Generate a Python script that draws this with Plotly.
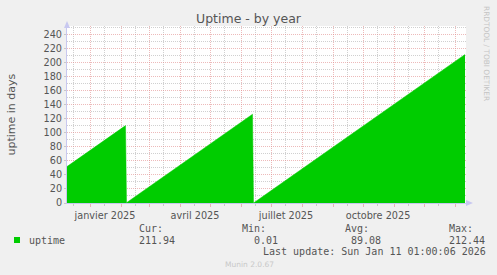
import plotly.graph_objects as go

# ---- data ----
dates = ["2024-12-09", "2025-02-05 12:00", "2025-02-06 12:00",
         "2025-06-12 12:00", "2025-06-13 12:00", "2026-01-11 01:00"]
uptime_days = [52.0, 110.4, 0.4, 126.6, 0.01, 211.94]

y_ticks = [0, 20, 40, 60, 80, 100, 120, 140, 160, 180, 200, 220, 240]
y_minor = [10, 30, 50, 70, 90, 110, 130, 150, 170, 190, 210, 230, 250]
month_starts = ["2025-01-01", "2025-02-01", "2025-03-01", "2025-04-01", "2025-05-01",
                "2025-06-01", "2025-07-01", "2025-08-01", "2025-09-01", "2025-10-01",
                "2025-11-01", "2025-12-01", "2026-01-01"]
mid_months = ["2024-12-15", "2025-01-15", "2025-02-15", "2025-03-15", "2025-04-15",
              "2025-05-15", "2025-06-15", "2025-07-15", "2025-08-15", "2025-09-15",
              "2025-10-15", "2025-11-15", "2025-12-15"]
label_dates = ["2025-01-16", "2025-04-16", "2025-07-16", "2025-10-16"]
label_texts = ["janvier 2025", "avril 2025", "juillet 2025", "octobre 2025"]

stat_names = ["Cur:", "Min:", "Avg:", "Max:"]
stat_values = ["211.94", "0.01", "89.08", "212.44"]
series_name = "uptime"
last_update = "Last update: Sun Jan 11 01:00:06 2026"

# ---- layout geometry (pixels) ----
W, H = 497, 275
L, R, T, B = 67, 31, 26, 72
PW, PH = W - L - R, H - T - B


def px(x):
    return (x - L) / PW


def py(y):
    return (H - B - y) / PH


GREEN = "#00CC00"
TXT = "#555555"
MAJ = "rgba(225,140,140,0.6)"
MIN = "rgba(150,150,150,0.45)"
AXIS = "#C8C8F0"
DASH = "1px,1px"

fig = go.Figure()
fig.add_trace(go.Scatter(
    x=dates, y=uptime_days, mode="lines", fill="tozeroy",
    line=dict(color=GREEN, width=0.5), fillcolor=GREEN,
    hoverinfo="skip", showlegend=False,
))
# invisible twin so the label axis (x2) is drawn
fig.add_trace(go.Scatter(
    x=dates, y=uptime_days, xaxis="x2", yaxis="y", mode="lines",
    line=dict(width=0, color="rgba(0,0,0,0)"), hoverinfo="skip", showlegend=False,
))

fig.update_layout(
    width=W, height=H,
    margin=dict(l=L, r=R, t=T, b=B, pad=0),
    paper_bgcolor="#F0F0F0", plot_bgcolor="#FFFFFF",
    showlegend=False,
    title=dict(text="Uptime - by year", x=0.5, xref="container", xanchor="center",
               y=1 - 19 / H, yref="container", yanchor="middle",
               font=dict(family="DejaVu Sans", size=12.5, color=TXT)),
    xaxis=dict(
        type="date", range=["2024-12-09", "2026-01-12"],
        tickmode="array", tickvals=month_starts, showticklabels=False,
        ticks="outside", ticklen=3, tickcolor=MAJ,
        showgrid=True, gridcolor=MAJ, griddash=DASH, gridwidth=1,
        minor=dict(tickmode="array", tickvals=mid_months, showgrid=True,
                   gridcolor=MIN, griddash=DASH, ticks="outside",
                   ticklen=2, tickcolor=MIN),
        showline=True, linecolor=AXIS, linewidth=1,
        zeroline=False, fixedrange=True,
    ),
    xaxis2=dict(
        type="date", overlaying="x", matches="x", anchor="y", side="bottom",
        tickmode="array", tickvals=label_dates, ticktext=label_texts,
        showgrid=False, ticks="outside", ticklen=3, tickcolor="rgba(0,0,0,0)",
        showline=False, zeroline=False,
        tickfont=dict(family="DejaVu Sans", size=9.7, color=TXT),
    ),
    yaxis=dict(
        range=[0, PH / 0.701], tickmode="array", tickvals=y_ticks,
        ticks="outside", ticklen=2, tickcolor=MIN,
        showgrid=True, gridcolor=MAJ, griddash=DASH, gridwidth=1,
        minor=dict(tickmode="array", tickvals=y_minor, showgrid=True,
                   gridcolor=MIN, griddash=DASH),
        showline=True, linecolor=AXIS, linewidth=1, zeroline=False,
        tickfont=dict(family="DejaVu Sans", size=9.7, color=TXT),
        fixedrange=True,
    ),
)

# axis arrows
fig.add_shape(type="path", xref="paper", yref="paper",
              path=f"M {px(64)} {py(28)} L {px(70)} {py(28)} L {px(67)} {py(21)} Z",
              fillcolor=AXIS, line=dict(width=0))
fig.add_shape(type="path", xref="paper", yref="paper",
              path=f"M {px(466)} {py(200)} L {px(466)} {py(206)} L {px(473)} {py(203)} Z",
              fillcolor=AXIS, line=dict(width=0))

# y axis title
fig.add_annotation(text="uptime in days", xref="paper", yref="paper",
                   x=px(11), y=0.5, textangle=-90, showarrow=False,
                   xanchor="center", yanchor="middle",
                   font=dict(family="DejaVu Sans", size=11, color=TXT))

# right-side credit
fig.add_annotation(text="RRDTOOL / TOBI OETIKER", xref="paper", yref="paper",
                   x=px(487), y=py(53), textangle=90, showarrow=False,
                   xanchor="center", yanchor="middle",
                   font=dict(family="DejaVu Sans", size=7.4, color="#C4C4C4"))

# legend
mono = dict(family="DejaVu Sans Mono", size=10, color=TXT)
fig.add_shape(type="rect", xref="paper", yref="paper",
              x0=px(14), x1=px(20), y0=py(243), y1=py(237),
              fillcolor=GREEN, line=dict(width=0))
fig.add_annotation(text=series_name, xref="paper", yref="paper", x=px(26.7), y=py(240),
                   showarrow=False, xanchor="left", yanchor="middle", font=mono)
head_x = [136.5, 240, 343.3, 447]
val_x = [136.5, 252.3, 349, 447.3]
for name, hx in zip(stat_names, head_x):
    fig.add_annotation(text=name, xref="paper", yref="paper", x=px(hx), y=py(228.3),
                       showarrow=False, xanchor="left", yanchor="middle", font=mono)
for val, vx in zip(stat_values, val_x):
    fig.add_annotation(text=val, xref="paper", yref="paper", x=px(vx), y=py(240),
                       showarrow=False, xanchor="left", yanchor="middle", font=mono)
fig.add_annotation(text=last_update, xref="paper", yref="paper", x=px(261), y=py(251.5),
                   showarrow=False, xanchor="left", yanchor="middle", font=mono)
fig.add_annotation(text="Munin 2.0.67", xref="paper", yref="paper", x=px(223.3), y=py(264.3),
                   showarrow=False, xanchor="left", yanchor="middle",
                   font=dict(family="DejaVu Sans", size=7.5, color="#C8C8C8"))

fig.write_html("out.html", config=dict(displayModeBar=False, staticPlot=True))
